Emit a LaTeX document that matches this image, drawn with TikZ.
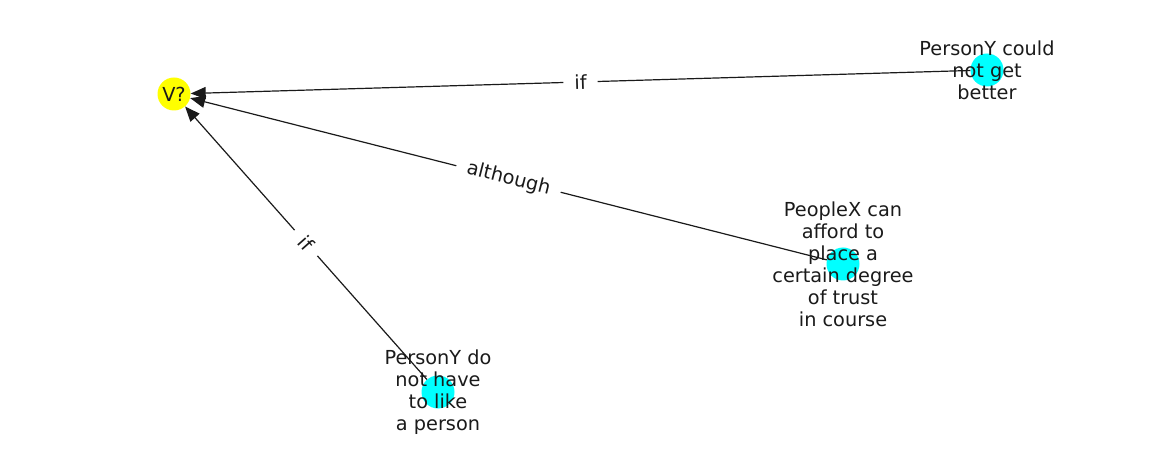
\documentclass[tikz,border=0pt]{standalone}
\usepackage{fontspec}
\setmainfont{DejaVu Sans}
\usetikzlibrary{arrows.meta}
\definecolor{nodecyan}{RGB}{0,255,255}
\definecolor{nodeyellow}{RGB}{255,255,0}
\definecolor{ink}{RGB}{26,26,26}
\begin{document}
\begin{tikzpicture}[x=1pt,y=-1pt,
  dot/.style={circle,minimum size=33pt,inner sep=0pt},
  lbl/.style={font=\fontsize{19.3}{22}\selectfont,align=center,text=ink,inner sep=0pt},
  edge/.style={draw=ink,line width=1.2pt,-{Triangle[length=15pt,width=12pt]}},
  elabel/.style={font=\fontsize{19.3}{22}\selectfont,fill=white,inner xsep=11pt,inner ysep=3pt,sloped,text=ink}
]
\useasboundingbox (0,0) rectangle (1162,462);
\node[dot,fill=nodeyellow] (v) at (174,94) {};
\node[dot,fill=nodecyan] (a) at (987,70) {};
\node[dot,fill=nodecyan] (b) at (843,264) {};
\node[dot,fill=nodecyan] (c) at (438,392) {};
\draw[edge] (a) -- node[elabel] (la) {if} (v);
\draw[edge] (b) -- node[elabel] (lb) {although} (v);
\draw[edge] (c) -- node[elabel] (lc) {if} (v);
\node[lbl] (tv) at (v) {V?};
\node[lbl] (ta) at (a) {PersonY could\\not get\\better};
\node[lbl] (tb) at (b) {PeopleX can\\afford to\\place a\\certain degree\\of trust\\in course};
\node[lbl] (tc) at (c) {PersonY do\\not have\\to like\\a person};
\end{tikzpicture}
\end{document}
